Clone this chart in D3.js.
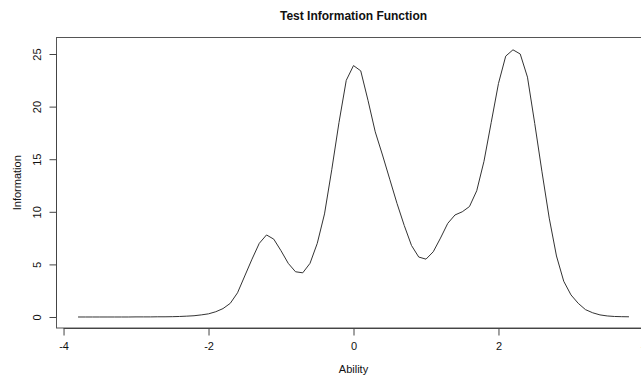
<!DOCTYPE html>
<html>
<head>
<meta charset="utf-8">
<script src="https://cdn.jsdelivr.net/npm/d3@7"></script>
<style>
  body { margin: 0; background: #fff; }
  svg text { font-family: "Liberation Sans", Arial, sans-serif; fill: #111; }
</style>
</head>
<body>
<svg class="figure" width="641" height="376"></svg>
<script>
// ability grid (theta) and the test information
var ability = [-3.8, -3.7, -3.6, -3.5, -3.4, -3.3, -3.2, -3.1, -3.0, -2.9, -2.8, -2.7, -2.6, -2.5, -2.4, -2.3,
  -2.2, -2.1, -2.0, -1.9, -1.8, -1.7, -1.6, -1.5, -1.4, -1.3, -1.2, -1.1, -1.0, -0.9, -0.8, -0.7,
  -0.6, -0.5, -0.4, -0.3, -0.2, -0.1, 0.0, 0.1, 0.2, 0.3, 0.4, 0.5, 0.6, 0.7, 0.8, 0.9, 1.0,
  1.1, 1.2, 1.3, 1.4, 1.5, 1.6, 1.7, 1.8, 1.9, 2.0, 2.1, 2.2, 2.3, 2.4, 2.5, 2.6, 2.7, 2.8,
  2.9, 3.0, 3.1, 3.2, 3.3, 3.4, 3.5, 3.6, 3.7, 3.8];
var information = [0, 0, 0, 0, 0, 0, 0, 0, 0.01, 0.01, 0.01, 0.02, 0.02, 0.03, 0.05, 0.08,
  0.12, 0.2, 0.3, 0.5, 0.8, 1.3, 2.3, 3.9, 5.5, 7.0, 7.8, 7.4, 6.3, 5.1, 4.3, 4.2,
  5.1, 7.0, 9.8, 14.0, 18.5, 22.5, 23.9, 23.4, 20.6, 17.6, 15.4, 13.1, 10.8, 8.7, 6.8, 5.7, 5.5,
  6.2, 7.5, 8.9, 9.7, 10.0, 10.5, 12.0, 14.8, 18.5, 22.2, 24.8, 25.4, 25.0, 22.8, 18.4, 13.8, 9.4, 5.8,
  3.4, 2.1, 1.3, 0.7, 0.4, 0.2, 0.1, 0.05, 0.03, 0.02];
var xTicks = [-4, -2, 0, 2, 4];
var yTicks = [0, 5, 10, 15, 20, 25];

var svg = d3.select("svg.figure");
var plotLeft = 56, plotRight = 651, plotTop = 37.5, plotBottom = 328;

var x = d3.scaleLinear().domain([-4.104, 4.104]).range([plotLeft, plotRight]);
var y = d3.scaleLinear().domain([-1.046, 26.57]).range([plotBottom, plotTop]);

// plot box (right edge falls outside the picture)
svg.append("rect")
.attr("x", plotLeft + 0.5)
.attr("y", plotTop)
.attr("width", plotRight - plotLeft)
.attr("height", plotBottom - plotTop)
.attr("fill", "none")
.attr("stroke", "#555")
.attr("stroke-width", 1);

var xAxis = svg.append("g")
.attr("transform", "translate(0," + (plotBottom + 0.5) + ")")
.call(d3.axisBottom(x).tickValues(xTicks).tickSize(7).tickPadding(7).tickFormat(function(d) { return String(d); }));

var yAxis = svg.append("g")
.attr("transform", "translate(" + (plotLeft + 0.5) + ",0)")
.call(d3.axisLeft(y).tickValues(yTicks).tickSize(7).tickPadding(0).tickFormat(function(d) { return String(d); }));

[xAxis, yAxis].forEach(function(g) {
  g.select(".domain").remove();
  g.selectAll(".tick line").attr("stroke", "#444");
  g.selectAll(".tick text")
  .attr("font-size", 11)
  .attr("font-family", "Liberation Sans, Arial, sans-serif")
  .attr("fill", "#111");
});

// R-style axis lines from first to last tick
xAxis.append("line")
.attr("x1", x(-4)).attr("x2", x(4))
.attr("stroke", "#444");

yAxis.selectAll(".tick text")
.attr("text-anchor", "middle")
.attr("dy", null)
.attr("x", null)
.attr("transform", "translate(-16,0) rotate(-90)");

yAxis.append("line")
.attr("y1", y(0)).attr("y2", y(25))
.attr("stroke", "#444");

var line = d3.line()
.x(function(d) { return x(d[0]); })
.y(function(d) { return y(d[1]); });

svg.append("path")
.datum(d3.zip(ability, information))
.attr("d", line)
.attr("fill", "none")
.attr("stroke", "#333")
.attr("stroke-width", 1);

svg.append("text")
.attr("x", (plotLeft + plotRight) / 2)
.attr("y", 20)
.attr("text-anchor", "middle")
.attr("font-size", 12)
.attr("font-weight", "bold")
.text("Test Information Function");

svg.append("text")
.attr("x", (plotLeft + plotRight) / 2)
.attr("y", 373)
.attr("text-anchor", "middle")
.attr("font-size", 11)
.text("Ability");

svg.append("text")
.attr("transform", "translate(21," + ((plotTop + plotBottom) / 2) + ") rotate(-90)")
.attr("text-anchor", "middle")
.attr("font-size", 11)
.text("Information");
</script>
</body>
</html>
